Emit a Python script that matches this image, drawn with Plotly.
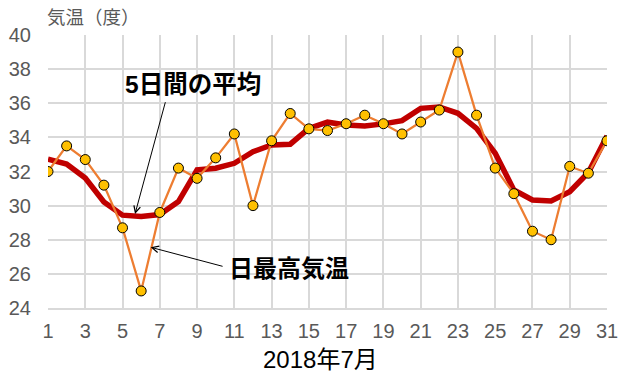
import plotly.graph_objects as go

days = list(range(1, 32))
daily_max = [32.0, 33.5, 32.7, 31.2, 28.7, 25.0, 29.6, 32.2, 31.6, 32.8,
             34.2, 30.0, 33.8, 35.4, 34.5, 34.4, 34.8, 35.3, 34.8, 34.2,
             34.9, 35.6, 39.0, 35.3, 32.2, 30.7, 28.5, 28.0, 32.3, 31.9, 33.8]
avg5 = [32.72, 32.44, 31.62, 30.22, 29.44, 29.36, 29.48, 30.24, 32.09, 32.19,
        32.48, 33.16, 33.56, 33.60, 34.53, 34.89, 34.73, 34.67, 34.79, 34.98,
        35.70, 35.78, 35.41, 34.53, 33.07, 30.92, 30.33, 30.27, 30.82, 31.94, 34.08]
x_ticks = list(range(1, 32, 2))
y_ticks = list(range(24, 41, 2))

FONT = "Liberation Sans, Arial, Noto Sans CJK JP, sans-serif"

fig = go.Figure()
fig.add_trace(go.Scatter(x=days, y=avg5, mode="lines",
                         line=dict(color="#C00000", width=5.5), hoverinfo="skip"))
fig.add_trace(go.Scatter(x=days, y=daily_max, mode="lines+markers",
                         line=dict(color="#ED7D31", width=2.25),
                         marker=dict(size=10, color="#FFC000",
                                     line=dict(color="#000000", width=1))))

# page body has an 8px margin, so the figure is sized to fill the rest
fig.update_layout(
    width=622, height=382,
    margin=dict(l=40, r=23, t=27, b=82, autoexpand=False),
    paper_bgcolor="white", plot_bgcolor="white",
    showlegend=False,
    font=dict(family=FONT, color="#595959", size=20),
)
fig.update_xaxes(range=[1, 31], tickvals=x_ticks, showgrid=True, automargin=False,
                 gridcolor="#D9D9D9", gridwidth=1.5, zeroline=False,
                 showline=True, linecolor="#D9D9D9", linewidth=1.5,
                 ticks="", ticklabelstandoff=4,
                 tickfont=dict(size=20, color="#595959"))
fig.update_yaxes(range=[24, 40], tickvals=y_ticks, showgrid=True, automargin=False,
                 gridcolor="#D9D9D9", gridwidth=1.5, zeroline=False,
                 showline=False, ticks="", ticklabelstandoff=16,
                 tickfont=dict(size=20, color="#595959"))

# axis titles as annotations
fig.add_annotation(text="気温（度）", xref="paper", yref="paper", x=-0.005, y=1.0,
                   yshift=17.5, xanchor="left", yanchor="middle", showarrow=False,
                   font=dict(size=18.5, color="#595959", family=FONT))
fig.add_annotation(text="2018年7月", xref="paper", yref="paper", x=0.4866, y=0,
                   yshift=-51, xanchor="center", yanchor="middle", showarrow=False,
                   font=dict(size=24, color="#000000", family=FONT))

# callouts
fig.add_annotation(x=5.67, y=29.51, xref="x", yref="y",
                   ax=7.32, ay=36.15, axref="x", ayref="y",
                   text="", showarrow=True, arrowhead=5, arrowsize=1.3,
                   arrowwidth=1, arrowcolor="#000000")
fig.add_annotation(text="<b>5日間の平均</b>", x=8.78, y=37.07, xref="x", yref="y",
                   xanchor="center", yanchor="middle", showarrow=False,
                   font=dict(size=24.5, color="#000000", family=FONT))

fig.add_annotation(x=6.51, y=27.56, xref="x", yref="y",
                   ax=10.45, ay=26.42, axref="x", ayref="y",
                   text="", showarrow=True, arrowhead=5, arrowsize=1.3,
                   arrowwidth=1, arrowcolor="#000000")
fig.add_annotation(text="<b>日最高気温</b>", x=13.91, y=26.34, xref="x", yref="y",
                   xanchor="center", yanchor="middle", showarrow=False,
                   font=dict(size=24, color="#000000", family=FONT))

fig.write_html("out.html")
